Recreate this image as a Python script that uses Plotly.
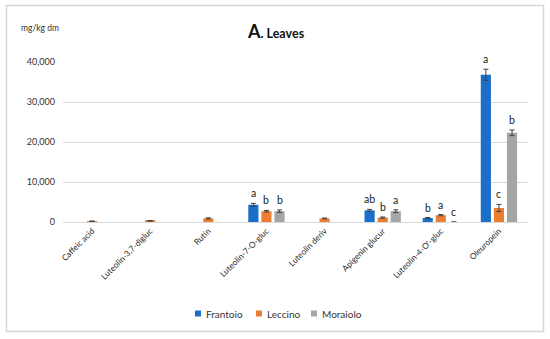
import plotly.graph_objects as go

categories = ["Caffeic acid", "Luteolin-3,7-digluc", "Rutin", "Luteolin-7-O-gluc",
              "Luteolin deriv", "Apigenin glucur", "Luteolin-4-O'-gluc", "Oleuropein"]
series_names = ["Frantoio", "Leccino", "Moraiolo"]
frantoio = [None, None, None, 4300, None, 2900, 1000, 36800]
leccino = [200, 300, 900, 2700, 900, 1100, 1700, 3500]
moraiolo = [None, None, None, 2700, None, 2700, 0, 22300]
frantoio_err = [0, 0, 0, 350, 0, 250, 120, 1400]
leccino_err = [60, 80, 150, 200, 100, 150, 150, 900]
moraiolo_err = [0, 0, 0, 300, 0, 350, None, 700]
frantoio_letters = ["", "", "", "a", "", "ab", "b", "a"]
leccino_letters = ["", "", "", "b", "", "b", "a", "c"]
moraiolo_letters = ["", "", "", "b", "", "a", "c", "b"]
y_ticks = [0, 10000, 20000, 30000, 40000]

colors = ["#1c6fc9", "#ed7d31", "#a5a5a5"]
values = [frantoio, leccino, moraiolo]
errs = [frantoio_err, leccino_err, moraiolo_err]
letters = [frantoio_letters, leccino_letters, moraiolo_letters]

FONT = "Lato, Open Sans, sans-serif"
W, H = 550, 339
# plot area in page coordinates
PX0, PX1, PY0, PY1 = 63, 528, 62, 222
ml, mt = PX0, PY0
mr, mb = W - PX1, H - PY1
pw = PX1 - PX0
ph = PY1 - PY0
cat_px = pw / len(categories)
step = 0.225
bw = 0.175


def px_x(x):
    return (x - PX0) / pw


def px_y(y):
    return (PY1 - y) / ph


fig = go.Figure()
for i, name in enumerate(series_names):
    fig.add_trace(go.Bar(
        x=categories, y=values[i], name=name, showlegend=False,
        marker=dict(color=colors[i], line=dict(width=0)),
        width=bw, offset=(i - 1) * step - bw / 2,
        error_y=dict(type="data", array=errs[i], color="#404040", thickness=1, width=2.5),
    ))

annotations = []
for i in range(3):
    for j, cat in enumerate(categories):
        lab = letters[i][j]
        if not lab:
            continue
        base = (values[i][j] or 0) + (errs[i][j] or 0)
        annotations.append(dict(
            x=cat, y=base, xref="x", yref="y",
            text=lab, showarrow=False, yanchor="bottom",
            xshift=(i - 1) * step * cat_px, yshift=2,
            font=dict(family=FONT, size=10.5, color="#222222"),
        ))

annotations.append(dict(
    x=px_x(40), y=px_y(28), xref="paper", yref="paper",
    text="mg/kg dm", showarrow=False, xanchor="center", yanchor="middle",
    font=dict(family=FONT, size=8.5, color="#333333"),
))
annotations.append(dict(
    x=px_x(276), y=px_y(31), xref="paper", yref="paper",
    text="<b><span style='font-size:18px'>A</span>. Leaves</b>", showarrow=False,
    xanchor="center", yanchor="middle",
    font=dict(family=FONT, size=12.5, color="#111111"),
))

shapes = [dict(type="rect", xref="paper", yref="paper",
               x0=px_x(6.5), x1=px_x(543.5), y0=px_y(331.5), y1=px_y(5.5),
               line=dict(color="#d6d6d6", width=1.5), fillcolor="rgba(0,0,0,0)", layer="above")]
leg_x = [195, 256, 311]
for i, name in enumerate(series_names):
    shapes.append(dict(type="rect", xref="paper", yref="paper",
                       x0=px_x(leg_x[i]), x1=px_x(leg_x[i] + 6),
                       y0=px_y(316.5), y1=px_y(310.5),
                       line=dict(width=0), fillcolor=colors[i]))
    annotations.append(dict(
        x=px_x(leg_x[i] + 8.5), y=px_y(313.5), xref="paper", yref="paper",
        text=name, showarrow=False, xanchor="left", yanchor="middle",
        font=dict(family=FONT, size=10, color="#333333"),
    ))

fig.update_layout(
    width=W, height=H,
    margin=dict(l=ml, r=mr, t=mt, b=mb, autoexpand=False),
    paper_bgcolor="white", plot_bgcolor="white",
    barmode="overlay",
    showlegend=False,
    hovermode=False,
    xaxis=dict(type="category", tickangle=-45, showgrid=False, showline=True,
               linecolor="#d9d9d9", linewidth=1, ticks="", automargin=False,
               tickfont=dict(family=FONT, size=8.3, color="#262626")),
    yaxis=dict(range=[0, 40000], tickvals=y_ticks, tickformat=",", showgrid=True,
               gridcolor="#d9d9d9", gridwidth=1, zeroline=False, showline=False,
               ticks="", ticklabelstandoff=7, automargin=False,
               tickfont=dict(family=FONT, size=9, color="#333333")),
    annotations=annotations,
    shapes=shapes,
)

fig.write_html("out.html", config={"displayModeBar": False},
               post_script="document.body.style.margin='0';")
